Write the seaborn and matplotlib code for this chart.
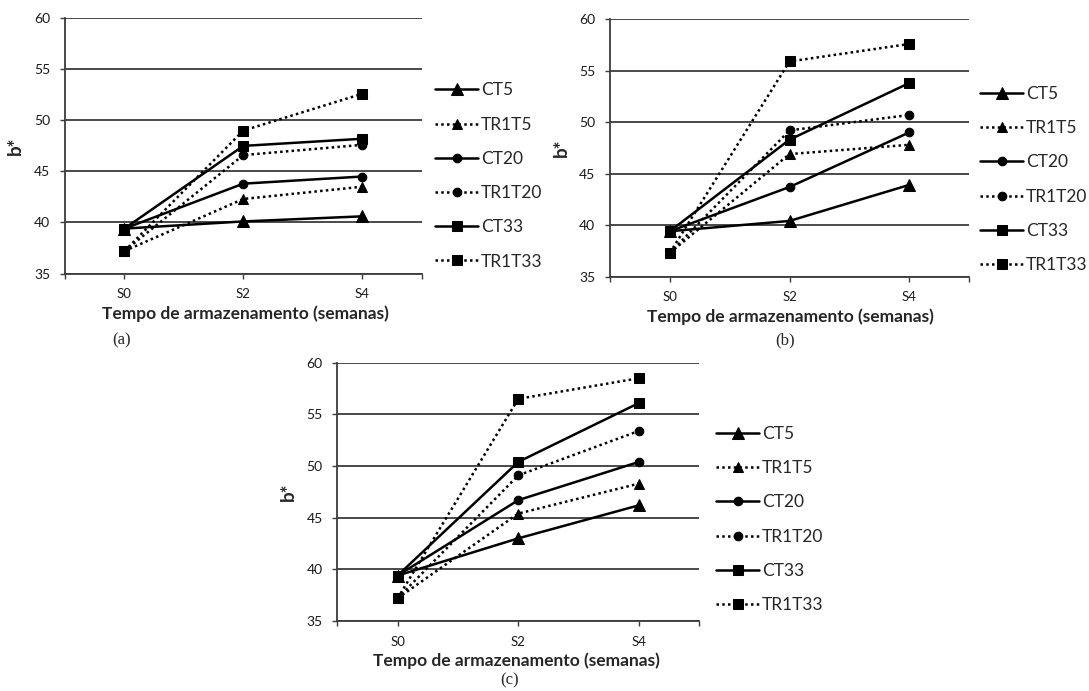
import matplotlib
matplotlib.use("Agg")
import matplotlib.pyplot as plt
import seaborn as sns
import pandas as pd

sns.set_theme(style="white")
plt.rcParams['font.family'] = ['Lato', 'DejaVu Sans']

weeks = ["S0", "S2", "S4"]
series_names = ["CT5", "TR1T5", "CT20", "TR1T20", "CT33", "TR1T33"]

panel_a = {
    "CT5": [39.4, 40.1, 40.6],
    "TR1T5": [37.2, 42.3, 43.5],
    "CT20": [39.4, 43.8, 44.5],
    "TR1T20": [37.2, 46.6, 47.6],
    "CT33": [39.4, 47.5, 48.2],
    "TR1T33": [37.2, 49.0, 52.6],
}
panel_b = {
    "CT5": [39.4, 40.4, 43.9],
    "TR1T5": [37.3, 46.9, 47.8],
    "CT20": [39.4, 43.7, 49.0],
    "TR1T20": [37.3, 49.2, 50.7],
    "CT33": [39.4, 48.3, 53.8],
    "TR1T33": [37.3, 55.9, 57.6],
}
panel_c = {
    "CT5": [39.4, 43.0, 46.2],
    "TR1T5": [37.2, 45.4, 48.3],
    "CT20": [39.4, 46.7, 50.4],
    "TR1T20": [37.2, 49.1, 53.4],
    "CT33": [39.4, 50.4, 56.1],
    "TR1T33": [37.2, 56.5, 58.5],
}
y_ticks = [35, 40, 45, 50, 55, 60]
x_label = "Tempo de armazenamento (semanas)"
y_label = "b*"
panel_tags = ["(a)", "(b)", "(c)"]

markers = {"CT5": "^", "TR1T5": "^", "CT20": "o", "TR1T20": "o", "CT33": "s", "TR1T33": "s"}
msizes = {"CT5": 8, "TR1T5": 6.5, "CT20": 6.2, "TR1T20": 6.2, "CT33": 7.0, "TR1T33": 7.0}
lstyles = {n: ("-" if n.startswith("CT") else (0, (1, 1.3))) for n in series_names}

W, H = 1089, 691
fig = plt.figure(figsize=(W/100, H/100), dpi=100)

# pixel boxes: left, right, top, bottom
boxes = [(65, 421.5, 18.3, 273.5), (610, 969, 19.3, 276.5), (337.3, 699.3, 362.7, 621)]
xlabel_pos = [(245, 314), (790, 317), (516.5, 661)]
ylabel_x = [15, 561, 288]
tag_pos = [(122, 340), (785, 340), (510, 680)]
legend_pos = [(435, 176), (980, 179.5), (716, 519.5)]
panels = [panel_a, panel_b, panel_c]
line_col = "#3c3c3c"

for i, (data, box) in enumerate(zip(panels, boxes)):
    l, r, t, b = box
    ax = fig.add_axes([l/W, 1-b/H, (r-l)/W, (b-t)/H])
    for name in series_names:
        df = pd.DataFrame({"week": weeks, "b": data[name]})
        sns.lineplot(data=df, x="week", y="b", ax=ax, color="black",
                     marker=markers[name], markersize=msizes[name],
                     markeredgecolor="black", linestyle=lstyles[name],
                     linewidth=1.8, label=name, sort=False)
    ax.set_ylim(35, 60)
    ax.set_xlim(-0.5, 2.5)
    ax.set_yticks(y_ticks)
    ax.set_yticklabels([str(t) for t in y_ticks], fontsize=10, color="#1a1a1a")
    ax.set_xticks([0, 1, 2])
    ax.set_xticklabels(weeks, fontsize=9.5, color="#1a1a1a")
    ax.set_xticks([-0.5, 2.5], minor=True)
    ax.tick_params(axis="x", which="both", length=3.5, width=1, color=line_col,
                   direction="out", pad=7, bottom=True)
    ax.tick_params(axis="y", length=3.5, width=1, color=line_col, direction="out",
                   pad=7, left=True)
    ax.yaxis.grid(True, color=line_col, linewidth=1.3)
    ax.xaxis.grid(False)
    ax.set_axisbelow(True)
    for s in ["top", "right"]:
        ax.spines[s].set_visible(False)
    for s in ["left", "bottom"]:
        ax.spines[s].set_visible(True)
        ax.spines[s].set_color(line_col)
        ax.spines[s].set_linewidth(1.3)
    ax.set_xlabel("")
    ax.set_ylabel("")
    lx, ly = legend_pos[i]
    ax.legend(loc="center left", frameon=False, fontsize=12.5,
              bbox_to_anchor=(lx/W, 1-ly/H), bbox_transform=fig.transFigure,
              borderaxespad=0, borderpad=0,
              handlelength=2.5, handletextpad=0.15, labelspacing=1.05)
    fig.text(ylabel_x[i]/W, 1-((t+b)/2)/H, y_label, rotation=90,
             ha="center", va="center", fontsize=13.5, fontweight="bold")
    fig.text(xlabel_pos[i][0]/W, 1-xlabel_pos[i][1]/H, x_label,
             ha="center", va="center", fontsize=12.5, fontweight="bold")
    fig.text(tag_pos[i][0]/W, 1-tag_pos[i][1]/H, panel_tags[i],
             ha="center", va="center", fontsize=12, family="Liberation Serif")

fig.savefig("out.png", dpi=100, facecolor="white")
